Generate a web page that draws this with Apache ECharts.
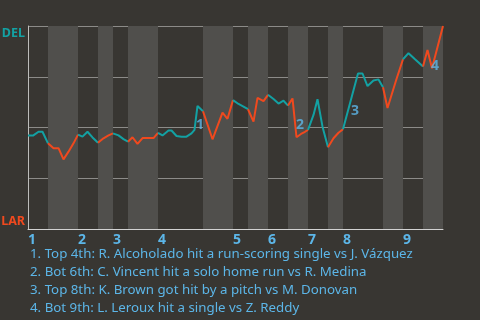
<!DOCTYPE html>
<html>
<head>
<meta charset="utf-8">
<script src="https://cdn.jsdelivr.net/npm/echarts@6/dist/echarts.min.js"></script>
<style>html,body{margin:0;padding:0;background:#383632;}#c{width:480px;height:320px;}</style>
</head>
<body>
<div id="c"></div>
<script>
// Plate appearances per half-inning (top 1st, bottom 1st, ...)
const halfInnings = [4,6,4,3,3,6,9,6,3,4,4,4,4,3,8,4,4,4];
const inningLabels = ['1','2','3','4','5','6','7','8','9'];
// Game progress (in plate appearances) and DEL win probability (%)
const progress = [
  0,1,2.1,2.9,4,
  5.1,6.1,7.1,8.1,9.1,10,
  10.9,11.9,12.9,14,
  15.1,16.1,17,
  18.1,19.1,20,
  20.9,21.9,22.9,23.8,25.1,26,
  26.9,28.1,28.7,29.7,30.7,31.7,32.7,33.3,33.9,35,
  36.9,38.9,39.9,41,
  42.1,43.1,44,
  45.1,45.9,46.3,47.1,48,
  49.1,50.1,51.1,52,
  52.9,53.7,54.6,55.4,56,
  57.1,57.9,58.9,60,
  61.1,62.1,63,
  66,66.9,67.9,69.1,70.1,71,
  71.9,73.7,75,
  76.1,77.4,79,
  79.9,80.8,83
];
const winProb = [
  46.0,46.0,47.9,47.9,42.2,
  39.8,39.8,34.3,38.1,42.2,46.5,
  45.5,47.9,45.1,42.5,
  44.7,46.1,47.1,
  46.1,44.3,43.0,
  45.2,41.9,44.8,44.8,44.8,47.4,
  46.1,48.5,48.5,45.8,45.5,45.5,47.1,48.8,60.6,58.0,
  44.2,57.3,54.3,63.5,
  61.6,60.3,59.0,
  52.9,64.6,64.9,63.0,66.1,
  64.0,61.8,63.2,60.8,
  64.3,45.2,46.8,47.9,48.8,
  56.2,63.9,50.4,40.3,
  44.7,47.4,49.1,
  76.6,76.6,70.4,73.2,73.7,69.8,
  59.6,73.9,83.6,
  86.6,83.6,80.0,
  88.2,79.2,100
];
// Key events
const eventNotes = [
  '1. Top 4th: R. Alcoholado hit a run-scoring single vs J. Vázquez',
  '2. Bot 6th: C. Vincent hit a solo home run vs R. Medina',
  '3. Top 8th: K. Brown got hit by a pitch vs M. Donovan',
  '4. Bot 9th: L. Leroux hit a single vs Z. Reddy'
];
const eventNumX = [34.4, 54.4, 65.4, 81.4];
const eventNumY = [51.2, 51.2, 58.1, 80.3];

const TEAL = '#13a1a3', ORANGE = '#f0491e', BLUE = '#5cb6e8';
const FONT = '"Noto Sans", sans-serif';

const bounds = [0];
halfInnings.forEach(n => bounds.push(bounds[bounds.length - 1] + n));
const inningStarts = bounds.filter((b, i) => i % 2 === 0 && i < 18);

const points = progress.map((x, i) => [x, winProb[i]]);
const series = [];
for (let h = 0; h < halfInnings.length; h++) {
  const s = bounds[h], e = bounds[h + 1];
  series.push({
    type: 'line',
    data: points.filter(p => p[0] >= s && p[0] <= e),
    showSymbol: false,
    symbol: 'none',
    lineStyle: { width: 2, color: h % 2 === 0 ? TEAL : ORANGE },
    z: 3,
    silent: true
  });
}
series[0].markArea = {
  silent: true,
  itemStyle: { color: '#504f4c' },
  data: bounds.slice(0, 18).map((b, i) => i % 2 === 1 ? [{ xAxis: b }, { xAxis: bounds[i + 1] }] : null).filter(Boolean)
};
series.push({
  type: 'scatter',
  data: eventNumX.map((x, i) => [x, eventNumY[i]]),
  symbolSize: 0,
  z: 5,
  label: {
    show: true, position: 'inside',
    formatter: p => String(p.dataIndex + 1),
    color: BLUE, fontWeight: 'bold', fontSize: 14, fontFamily: FONT
  }
});

const chart = echarts.init(document.getElementById('c'), null, { renderer: 'canvas' });
chart.setOption({
  backgroundColor: '#383632',
  animation: false,
  title: {
    text: eventNotes.join('\n'),
    left: 30, top: 245, padding: 0,
    textStyle: { color: BLUE, fontSize: 13.3, fontWeight: 'normal', lineHeight: 18, fontFamily: FONT }
  },
  grid: { left: 28, right: 37, top: 26, bottom: 91, containLabel: false, outerBoundsMode: 'none' },
  xAxis: {
    type: 'value', min: 0, max: 83,
    axisLine: { show: true, lineStyle: { color: '#d2d2d2' } },
    axisTick: { show: false },
    splitLine: { show: false },
    axisLabel: {
      customValues: inningStarts,
      formatter: v => inningLabels[inningStarts.indexOf(v)] || '',
      align: 'left', margin: 4,
      color: BLUE, fontWeight: 'bold', fontSize: 14, fontFamily: FONT
    }
  },
  yAxis: {
    type: 'value', min: 0, max: 100, interval: 25,
    axisLine: { show: true, lineStyle: { color: '#bdbdbb' } },
    axisTick: { show: false },
    splitLine: { lineStyle: { color: '#8c8b88' } },
    axisLabel: {
      margin: 3,
      formatter: v => v === 100 ? '{d|DEL}' : (v === 0 ? '{l|LAR}' : ''),
      rich: {
        d: { color: TEAL, fontWeight: 'bold', fontSize: 12.5, fontFamily: FONT, padding: [14, 0, 0, 0] },
        l: { color: ORANGE, fontWeight: 'bold', fontSize: 12.5, fontFamily: FONT, padding: [0, 0, 16, 0] }
      }
    }
  },
  series: series
});
</script>
</body>
</html>
